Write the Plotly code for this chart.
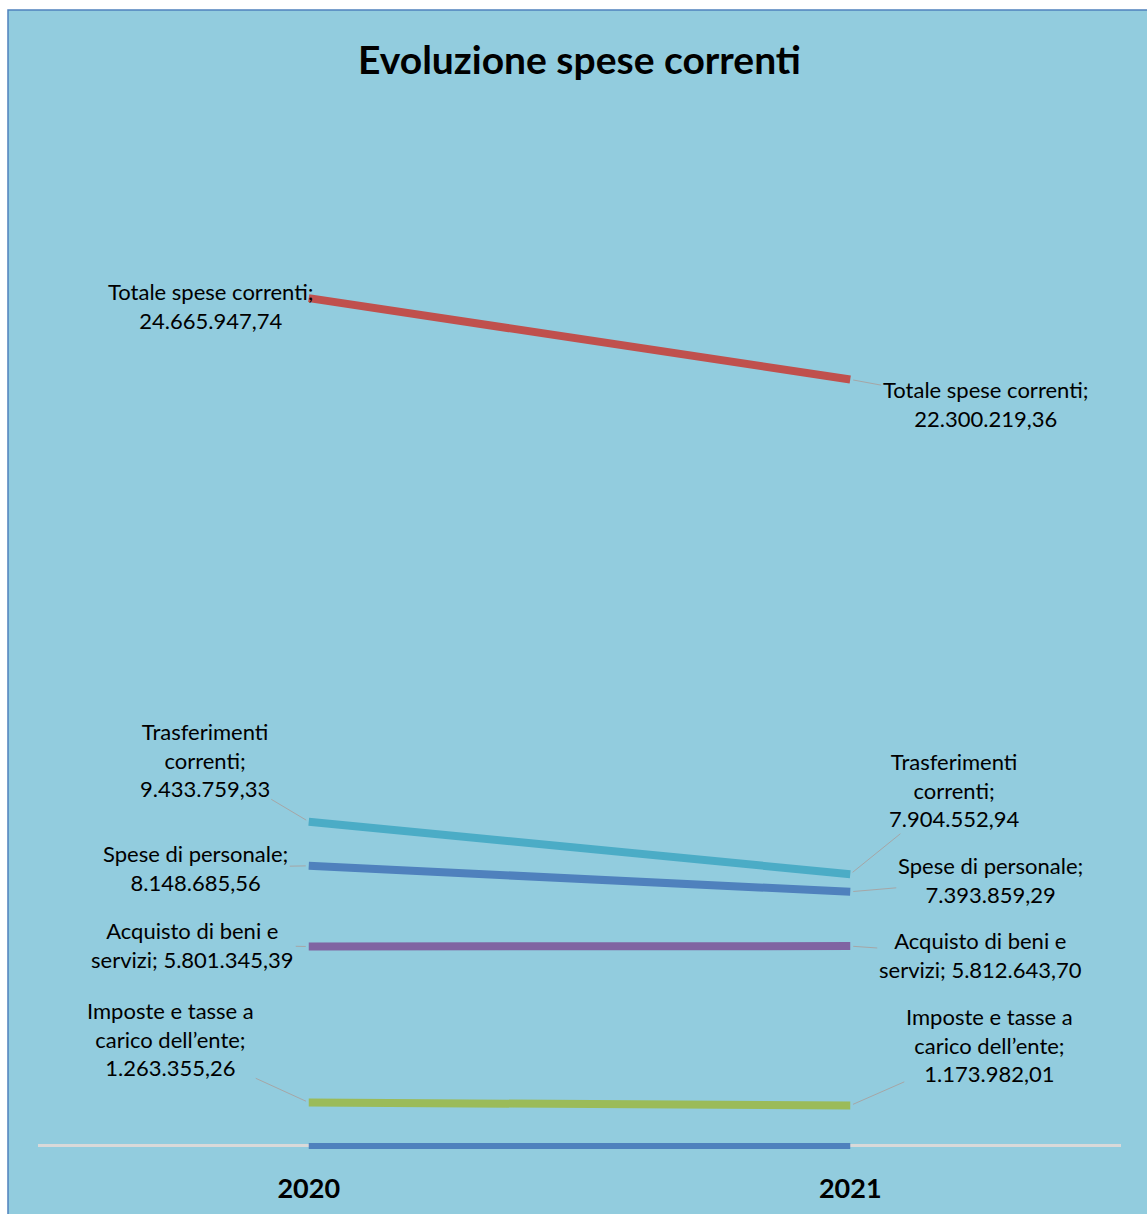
import plotly.graph_objects as go

# ---- data ----
years = ["2020", "2021"]
series_names = [
    "Totale spese correnti",
    "Trasferimenti correnti",
    "Acquisto di beni e servizi",
    "Imposte e tasse a carico dell\u2019ente",
    "Spese di personale",
]
totale = [24665947.74, 22300219.36]
trasferimenti = [9433759.33, 7904552.94]
acquisto = [5801345.39, 5812643.70]
imposte = [1263355.26, 1173982.01]
personale = [8148685.56, 7393859.29]
altre = [0, 0]

label_lines = {
    "Totale spese correnti": ["Totale spese correnti;"],
    "Trasferimenti correnti": ["Trasferimenti", "correnti;"],
    "Acquisto di beni e servizi": ["Acquisto di beni e", "servizi; "],
    "Imposte e tasse a carico dell\u2019ente": ["Imposte e tasse a", "carico dell\u2019ente;"],
    "Spese di personale": ["Spese di personale;"],
}

colors = ["#C0504D", "#4BACC6", "#8064A2", "#9BBB59", "#4F81BD"]
values = [totale, trasferimenti, acquisto, imposte, personale]

# label offsets (pixels) for 2020 / 2021
offsets = {
    "Totale spese correnti": [(-98, 8), (135, 25)],
    "Trasferimenti correnti": [(-104, -62), (104, -84)],
    "Acquisto di beni e servizi": [(-116, -2), (130, 9)],
    "Imposte e tasse a carico dell\u2019ente": [(-138, -63), (139, -61)],
    "Spese di personale": [(-113, 2), (140, -12)],
}


def fmt_it(v):
    s = f"{v:,.2f}"
    return s.replace(",", "X").replace(".", ",").replace("X", ".")


FONT = "Lato"
W, H = 1147, 1214
ML, MR, MT, MB = 38, 26, 100, 54
PW, PH = W - ML - MR, H - MT - MB

fig = go.Figure()

# zero series (front band)
fig.add_trace(go.Scatter(x=years, y=altre, mode="lines",
                         line=dict(color="#4F81BD", width=6),
                         hoverinfo="skip", showlegend=False))

for i in range(len(series_names)):
    fig.add_trace(go.Scatter(x=years, y=values[i], mode="lines",
                             name=series_names[i],
                             line=dict(color=colors[i], width=8),
                             showlegend=False))

annotations = []
for i, name in enumerate(series_names):
    for j, yr in enumerate(years):
        lines = list(label_lines[name])
        num = fmt_it(values[i][j])
        if lines[-1].endswith("; "):
            lines[-1] = lines[-1] + num
        else:
            lines.append(num)
        ax, ay = offsets[name][j]
        annotations.append(dict(
            x=j, y=values[i][j], xref="x", yref="y",
            text="<br>".join(lines), showarrow=True, arrowhead=0,
            arrowwidth=1, arrowcolor="#A6A6A6", ax=ax, ay=ay,
            font=dict(family=FONT, size=22, color="#000000"),
            align="center", standoff=3,
        ))

# chart area background with border (left edge at 8px, top edge at 10px)
shapes = [dict(
    type="rect", xref="paper", yref="paper", layer="below",
    x0=(8 - ML) / PW, x1=(W + 20 - ML) / PW,
    y0=-(MB + 20) / PH, y1=(MT + PH - 10) / PH,
    fillcolor="#92CCDE", line=dict(color="#4F81BD", width=1.5),
)]

fig.update_layout(
    width=W, height=H,
    margin=dict(l=ML, r=MR, t=MT, b=MB),
    paper_bgcolor="white",
    plot_bgcolor="rgba(0,0,0,0)",
    title=dict(text="<b>Evoluzione spese correnti</b>",
               font=dict(family=FONT, size=39, color="#000000"),
               xref="paper", x=0.5, xanchor="center",
               yref="container", y=1 - 60 / H, yanchor="middle"),
    shapes=shapes,
    annotations=annotations,
    xaxis=dict(type="category", range=[-0.5, 1.5], showgrid=False,
               showline=False, ticks="outside", ticklen=5,
               tickcolor="rgba(0,0,0,0)", automargin=False,
               tickfont=dict(family=FONT, size=27, color="#000000"),
               tickprefix="<b>", ticksuffix="</b>", fixedrange=True),
    yaxis=dict(range=[-0.41e6, 30.43e6], showgrid=False, showticklabels=False,
               zeroline=True, zerolinecolor="#D9D9D9", zerolinewidth=3,
               showline=False, fixedrange=True, automargin=False),
)

fig.write_html("out.html")
